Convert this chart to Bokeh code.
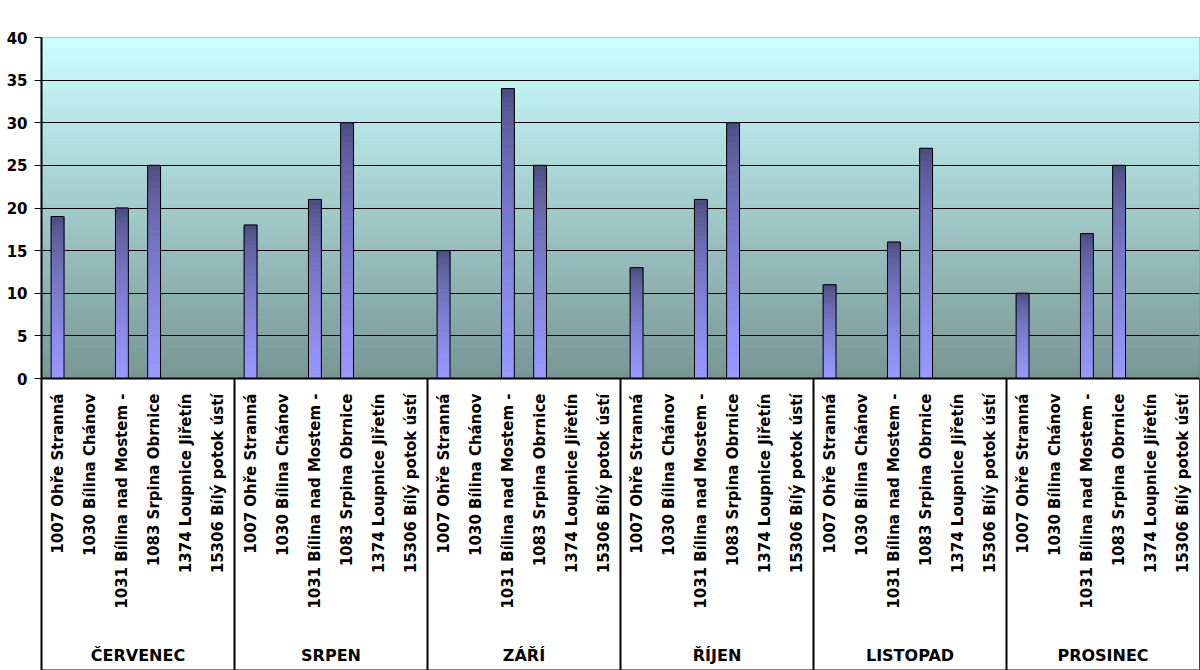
import numpy as np
from math import pi
from bokeh.plotting import figure
from bokeh.models import Range1d, FixedTicker
from bokeh.core.properties import value
from bokeh.embed import file_html
from bokeh.resources import INLINE

# ---------------- data ----------------
months = ["ČERVENEC", "SRPEN", "ZÁŘÍ", "ŘÍJEN", "LISTOPAD", "PROSINEC"]
stations = ["1007 Ohře Stranná", "1030 Bílina Chánov", "1031 Bílina nad Mostem -",
            "1083 Srpina Obrnice", "1374 Loupnice Jiřetín", "15306 Bílý potok ústí"]
cervenec = [19, 0, 20, 25, 0, 0]
srpen = [18, 0, 21, 30, 0, 0]
zari = [15, 0, 34, 25, 0, 0]
rijen = [13, 0, 21, 30, 0, 0]
listopad = [11, 0, 16, 27, 0, 0]
prosinec = [10, 0, 17, 25, 0, 0]
y_ticks = [0, 5, 10, 15, 20, 25, 30, 35, 40]

series = [cervenec, srpen, zari, rijen, listopad, prosinec]
values = [v for s in series for v in s]
ns = len(stations)
ncat = len(values)
xs = [i + 0.5 for i in range(ncat)]

YMAX = 40
YMIN = -34.25
FONT_NAME = "DejaVu Sans"
FONT = value(FONT_NAME)

p = figure(width=1200, height=670, output_backend="svg", toolbar_location=None,
           x_range=Range1d(0, ncat), y_range=Range1d(YMIN, YMAX),
           min_border_left=41, min_border_right=1, min_border_top=37, min_border_bottom=0)
p.background_fill_color = "white"
p.border_fill_color = "white"
p.outline_line_color = "#808080"
p.outline_line_width = 1
p.xaxis.visible = False
p.xgrid.visible = False

# y axis
p.yaxis.ticker = FixedTicker(ticks=y_ticks)
p.yaxis.major_label_text_font = FONT_NAME
p.yaxis.major_label_text_font_style = "bold"
p.yaxis.major_label_text_font_size = "15px"
p.yaxis.major_label_text_color = "black"
p.yaxis.major_tick_out = 7
p.yaxis.major_tick_in = 0
p.yaxis.minor_tick_line_color = None
p.yaxis.axis_line_color = "black"
p.yaxis.axis_line_width = 2
p.yaxis.major_tick_line_color = "black"
p.yaxis.major_label_standoff = 7

p.ygrid.ticker = FixedTicker(ticks=y_ticks[1:-1])
p.ygrid.grid_line_color = "black"
p.ygrid.grid_line_width = 1
p.ygrid.grid_line_alpha = 1.0
p.ygrid.level = "underlay"

# gradient background of the plot area (styling strips)
def lerp(c0, c1, t):
    return "#%02x%02x%02x" % tuple(int(round(a + (b - a) * t)) for a, b in zip(c0, c1))

bg_bottom = (119, 150, 148)
bg_top = (204, 255, 255)
N = 100
edges = np.linspace(0, YMAX, N + 1)
bgc = [lerp(bg_bottom, bg_top, (k + 0.5) / N) for k in range(N)]
p.quad(left=0, right=ncat, bottom=edges[:-1], top=edges[1:],
       fill_color=bgc, line_color=bgc, line_width=1, level="image")

# bars with vertical gradient (dark top -> light bottom)
bar_bottom = (153, 153, 255)
bar_top = (72, 72, 120)
W = 0.4
M = 40
bl, br, bb, bt, bc = [], [], [], [], []
for x, v in zip(xs, values):
    if v <= 0:
        continue
    for k in range(M):
        bl.append(x - W / 2)
        br.append(x + W / 2)
        bb.append(v * k / M)
        bt.append(v * (k + 1) / M)
        f_from_top = 1.0 - (k + 0.5) / M
        bc.append(lerp(bar_top, bar_bottom, f_from_top ** 0.6))
p.quad(left=bl, right=br, bottom=bb, top=bt, fill_color=bc, line_color=bc, line_width=1)
bx = [x for x, v in zip(xs, values) if v > 0]
bv = [v for v in values if v > 0]
p.vbar(x=bx, top=bv, bottom=0, width=W, fill_color=None, line_color="black", line_width=1)

# x axis line and group separators
p.segment(x0=[0], x1=[ncat], y0=[0], y1=[0], line_color="black", line_width=2)
seps = [ns * k for k in range(1, len(months))]
p.segment(x0=seps, x1=seps, y0=[0] * len(seps), y1=[YMIN] * len(seps),
          line_color="black", line_width=2)
p.segment(x0=[ncat], x1=[ncat], y0=[0], y1=[YMIN], line_color="black", line_width=1)

# category labels
p.text(x=xs, y=[0] * ncat, text=stations * len(months), angle=pi / 2,
       text_align="right", text_baseline="middle", y_offset=15,
       text_font=FONT, text_font_style="bold", text_font_size="15px", text_color="black")
gx = [ns * k + ns / 2 for k in range(len(months))]
p.text(x=gx, y=[0] * len(months), text=months, text_align="center", text_baseline="middle",
       y_offset=277, text_font=FONT, text_font_style="bold", text_font_size="16px",
       text_color="black")

open("out.html", "w").write(file_html(p, INLINE))
